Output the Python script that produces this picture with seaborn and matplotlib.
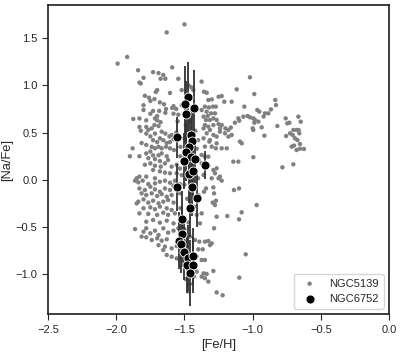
import matplotlib
matplotlib.use("Agg")
import matplotlib.pyplot as plt
import seaborn as sns

# NGC5139 (omega Cen): [Fe/H] and [Na/Fe], 10 per line
omega_feh = [
    -1.50, -1.63, -1.92, -1.99, -1.84, -1.59, -1.73, -1.69, -1.655, -1.675,
    -1.64, -1.80, -1.83, -1.82, -1.545, -1.45, -1.435, -1.70, -1.71, -1.606,
    -1.79, -1.76, -1.72, -1.75, -1.80, -1.68, -1.65, -1.58, -1.59, -1.635,
    -1.56, -1.52, -1.80, -1.73, -1.685, -1.64, -1.58, -1.545, -1.75, -1.70,
    -1.716, -1.70, -1.675, -1.78, -1.83, -1.875, -1.83, -1.82, -1.78, -1.765,
    -1.74, -1.72, -1.69, -1.667, -1.64, -1.61, -1.594, -1.56, -1.716, -1.78,
    -1.75, -1.73, -1.70, -1.68, -1.655, -1.63, -1.606, -1.58, -1.814, -1.78,
    -1.74, -1.716, -1.69, -1.667, -1.635, -1.606, -1.577, -1.75, -1.78, -1.73,
    -1.69, -1.667, -1.63, -1.90, -1.88, -1.83, -1.765, -1.716, -1.68, -1.643,
    -1.62, -1.75, -1.79, -1.716, -1.674, -1.594, -1.557, -1.533, -1.73, -1.68,
    -1.643, -1.606, -1.557, -1.83, -1.78, -1.716, -1.85, -1.396, -1.40, -1.40,
    -1.52, -1.47, -1.55, -1.49, -1.53, -1.46, -1.50, -1.44, -1.52, -1.42,
    -1.45, -1.53, -1.41, -1.374, -1.117, -1.357, -1.337, -1.02, -0.988, -1.25,
    -1.227, -1.325, -1.30, -1.208, -1.154, -0.834, -0.829, -0.866, -1.35, -1.32,
    -1.29, -1.27, -1.061, -0.966, -0.951, -0.91, -0.92, -0.885, -1.374, -1.337,
    -1.305, -1.276, -1.36, -1.33, -1.342, -1.313, -1.288, -1.264, -1.105, -1.098,
    -1.068, -1.037, -1.02, -0.995, -0.983, -0.958, -0.988, -1.0, -1.13, -1.35,
    -1.325, -1.288, -1.25, -1.227, -1.36, -1.313, -1.24, -1.20, -1.178, -1.16,
    -0.934, -0.758, -0.746, -0.731, -0.819, -0.665, -0.648, -0.702, -0.678, -0.663,
    -0.726, -0.658, -0.755, -0.707, -0.69, -0.672, -0.653, -0.714, -0.697, -0.678,
    -0.653, -0.624, -0.782, -0.702, -0.914, -0.995, -1.093, -1.08, -1.337, -1.288,
    -1.264, -1.24, -1.203, -1.178, -1.154, -1.36, -1.313, -1.318, -1.264, -1.35,
    -1.30, -1.27, -1.227, -1.19, -1.374, -1.35, -1.325, -1.374, -1.35, -1.325,
    -1.288, -1.264, -1.276, -1.24, -1.36, -1.30, -1.25, -1.142, -1.105, -0.995,
    -1.862, -1.838, -1.806, -1.765, -1.716, -1.68, -1.643, -1.606, -1.57, -1.533,
    -1.83, -1.79, -1.75, -1.716, -1.68, -1.643, -1.606, -1.58, -1.814, -1.78,
    -1.74, -1.70, -1.667, -1.63, -1.594, -1.533, -1.838, -1.80, -1.765, -1.73,
    -1.69, -1.655, -1.62, -1.58, -1.85, -1.80, -1.75, -1.716, -1.68, -1.63,
    -1.594, -1.83, -1.765, -1.70, -1.655, -1.62, -1.57, -1.78, -1.73, -1.68,
    -1.63, -1.58, -1.862, -1.80, -1.78, -1.75, -1.716, -1.69, -1.655, -1.62,
    -1.58, -1.545, -1.814, -1.78, -1.74, -1.70, -1.667, -1.63, -1.69, -1.643,
    -1.594, -1.557, -1.63, -1.594, -1.557, -1.655, -1.533, -1.508, -1.423, -1.398,
    -1.43, -1.41, -1.423, -1.391, -1.398, -1.41, -1.41, -1.50, -1.48, -1.53,
    -1.47, -1.50, -1.46, -1.49, -1.52, -1.49, -1.46, -1.43, -1.47, -1.227,
    -1.342, -1.288, -1.283, -1.357, -1.137, -1.10, -1.293, -1.276, -1.269, -0.971,
    -1.081, -1.10, -1.186, -1.264, -1.374, -1.386, -1.283, -1.35, -1.325, -1.30,
    -1.313, -1.366, -1.051, -1.374, -1.35, -1.288, -1.36, -1.337, -1.35, -1.325,
    -1.374, -1.098, -1.264, -1.22,
]
omega_nafe = [
    1.645, 1.56, 1.30, 1.23, 1.16, 1.19, 1.14, 1.13, 1.11, 1.07,
    1.07, 1.08, 1.03, 1.02, 1.07, 0.98, 0.95, 0.95, 0.93, 0.92,
    0.89, 0.87, 0.855, 0.835, 0.79, 0.82, 0.80, 0.78, 0.76, 0.75,
    0.75, 0.79, 0.74, 0.73, 0.73, 0.71, 0.70, 0.69, 0.70, 0.675,
    0.65, 0.63, 0.61, 0.63, 0.65, 0.645, 0.56, 0.52, 0.56, 0.53,
    0.545, 0.58, 0.57, 0.51, 0.49, 0.46, 0.475, 0.50, 0.49, 0.49,
    0.46, 0.42, 0.40, 0.44, 0.42, 0.39, 0.40, 0.43, 0.39, 0.37,
    0.35, 0.334, 0.35, 0.334, 0.35, 0.334, 0.316, 0.30, 0.28, 0.26,
    0.26, 0.28, 0.25, 0.25, 0.334, 0.25, 0.23, 0.22, 0.20, 0.175,
    0.21, 0.175, 0.16, 0.15, 0.14, 0.14, 0.16, 0.12, 0.105, 0.09,
    0.077, 0.07, 0.07, 0.035, 0.035, 0.017, 0.017, 0.21, 0.017, 0.42,
    0.95, 1.0, 0.62, 0.58, 0.35, 0.62, 0.44, 0.12, 0.05, 0.52,
    0.72, 0.25, 0.33, 1.04, 0.958, 0.933, 0.922, 1.085, 0.908, 0.88,
    0.887, 0.845, 0.852, 0.827, 0.827, 0.845, 0.792, 0.746, 0.775, 0.767,
    0.775, 0.775, 0.775, 0.739, 0.722, 0.704, 0.67, 0.704, 0.739, 0.722,
    0.704, 0.704, 0.669, 0.676, 0.634, 0.634, 0.651, 0.634, 0.651, 0.626,
    0.669, 0.676, 0.662, 0.651, 0.634, 0.616, 0.605, 0.545, 0.605, 0.58,
    0.563, 0.58, 0.59, 0.58, 0.545, 0.528, 0.545, 0.545, 0.528, 0.553,
    0.556, 0.651, 0.598, 0.605, 0.57, 0.669, 0.616, 0.528, 0.528, 0.528,
    0.493, 0.493, 0.464, 0.475, 0.44, 0.422, 0.38, 0.352, 0.363, 0.316,
    0.33, 0.327, 0.133, 0.165, 0.468, 0.528, 0.405, 0.387, 0.493, 0.475,
    0.458, 0.51, 0.493, 0.458, 0.475, 0.44, 0.422, 0.405, 0.387, 0.352,
    0.352, 0.334, 0.334, 0.334, 0.264, 0.246, 0.246, 0.175, 0.14, 0.151,
    0.105, 0.123, 0.07, 0.035, 0.052, 0.017, 0.017, 0.193, 0.193, 0.24,
    -0.008, -0.026, -0.008, -0.044, -0.037, -0.019, -0.008, -0.03, -0.008, -0.044,
    -0.09, -0.107, -0.072, -0.10, -0.125, -0.09, -0.107, -0.06, -0.142, -0.16,
    -0.142, -0.17, -0.15, -0.178, -0.16, -0.142, -0.23, -0.206, -0.24, -0.22,
    -0.248, -0.23, -0.213, -0.24, -0.248, -0.30, -0.29, -0.31, -0.283, -0.30,
    -0.318, -0.354, -0.36, -0.37, -0.347, -0.37, -0.354, -0.442, -0.424, -0.452,
    -0.431, -0.46, -0.52, -0.548, -0.512, -0.565, -0.537, -0.583, -0.512, -0.558,
    -0.537, -0.512, -0.60, -0.607, -0.636, -0.618, -0.643, -0.628, -0.69, -0.706,
    -0.724, -0.70, -0.794, -0.812, -0.83, -0.741, -0.847, -0.882, -0.079, -0.16,
    -0.283, -0.37, -0.636, -0.653, -0.734, -0.81, -0.97, -0.05, -0.2, -0.3,
    -0.45, -0.52, -0.6, -0.65, -0.9, -1.05, -1.1, -1.02, -1.18, -0.008,
    -0.09, -0.079, -0.142, -0.125, -0.107, -0.09, -0.24, -0.266, -0.22, -0.266,
    -0.343, -0.417, -0.382, -0.389, -0.354, -0.46, -0.512, -0.653, -0.646, -0.671,
    -0.69, -0.734, -0.787, -0.847, -0.847, -0.963, -0.988, -0.995, -1.04, -1.076,
    -1.023, -1.034, -1.19, -1.22,
]

# NGC6752 with [Na/Fe] errors
ngc6752_feh = [
    -1.476, -1.496, -1.43, -1.49, -1.557, -1.452, -1.447, -1.47, -1.49, -1.454,
    -1.425, -1.50, -1.35, -1.47, -1.435, -1.556, -1.447, -1.41, -1.459, -1.515,
    -1.515, -1.537, -1.527, -1.503, -1.471, -1.439, -1.483, -1.435, -1.459,
]
ngc6752_nafe = [
    0.88, 0.80, 0.764, 0.70, 0.45, 0.48, 0.41, 0.35, 0.29, 0.24,
    0.22, 0.20, 0.155, 0.06, 0.097, -0.078, -0.078, -0.194, -0.30, -0.413,
    -0.572, -0.642, -0.68, -0.759, -0.822, -0.81, -0.90, -0.90, -0.987,
]
ngc6752_err = [
    0.37, 0.40, 0.40, 0.35, 0.22, 0.30, 0.30, 0.30, 0.30, 0.25,
    0.25, 0.30, 0.15, 0.30, 0.30, 0.25, 0.30, 0.30, 0.30, 0.30,
    0.30, 0.30, 0.30, 0.30, 0.35, 0.30, 0.30, 0.30, 0.35,
]

sns.set_theme(style="ticks")
plt.rcParams["font.family"] = ["Liberation Sans", "DejaVu Sans"]

fig, ax = plt.subplots(figsize=(4.07, 3.57), dpi=100)
fig.subplots_adjust(left=0.118, right=0.956, top=0.986, bottom=0.12)

sns.scatterplot(x=omega_feh, y=omega_nafe, color="gray", s=10, edgecolor="none",
                label="NGC5139", ax=ax, zorder=1)
ax.errorbar(ngc6752_feh, ngc6752_nafe, yerr=ngc6752_err, fmt="none",
            ecolor="0.2", elinewidth=1.3, zorder=2)
sns.scatterplot(x=ngc6752_feh, y=ngc6752_nafe, color="black", s=42,
                edgecolor="white", linewidth=0.6, label="NGC6752", ax=ax, zorder=3)

ax.set_xlim(-2.5, 0.0)
ax.set_ylim(-1.42, 1.85)
ax.set_xticks([-2.5, -2.0, -1.5, -1.0, -0.5, 0.0])
ax.set_yticks([-1.0, -0.5, 0.0, 0.5, 1.0, 1.5])
ax.tick_params(labelsize=8, length=4, width=0.8)
ax.set_xlabel("[Fe/H]", fontsize=9.3, labelpad=3)
ax.set_ylabel("[Na/Fe]", fontsize=9.3, labelpad=2)
ax.legend(loc="lower right", fontsize=8)

plt.savefig("out.png", dpi=100)
plt.close()
